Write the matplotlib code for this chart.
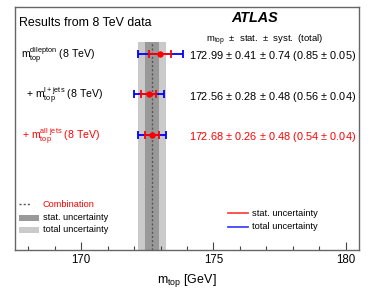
import numpy as np
import matplotlib
matplotlib.use("Agg")
import matplotlib.pyplot as plt
import matplotlib.ticker as mticker
from matplotlib.patches import Rectangle
from matplotlib.lines import Line2D

plt.rcParams["font.family"] = ["Liberation Sans", "DejaVu Sans"]
plt.rcParams["mathtext.fontset"] = "custom"
plt.rcParams["mathtext.rm"] = "Liberation Sans"
plt.rcParams["mathtext.it"] = "Liberation Sans:italic"
plt.rcParams["mathtext.bf"] = "Liberation Sans:bold"

# --- data ---
labels = [r"$\mathrm{m_{top}^{dilepton}}$ (8 TeV)",
          r"+ $\mathrm{m_{top}^{l+jets}}$ (8 TeV)",
          r"+ $\mathrm{m_{top}^{all\ jets}}$ (8 TeV)"]
mtop  = [172.99, 172.56, 172.68]
stat  = [0.41, 0.28, 0.26]
syst  = [0.74, 0.48, 0.48]
total = [0.85, 0.56, 0.54]
total_err = [0.05, 0.04, 0.04]
row_colors = ["black", "black", "red"]

comb_val, comb_stat, comb_total = 172.68, 0.26, 0.54

rows = [4.85, 3.85, 2.85]

fig = plt.figure(figsize=(3.74, 2.92), dpi=100)
ax = fig.add_axes([0.0401, 0.1438, 0.9198, 0.8322])
ax.set_xlim(167.5, 180.5)
ax.set_ylim(0, 6)

# combination bands (stop below the header line)
band_top = 0.856
ax.axvspan(comb_val - comb_total, comb_val + comb_total, ymax=band_top,
           color="#cacaca", lw=0, zorder=1)
ax.axvspan(comb_val - comb_stat, comb_val + comb_stat, ymax=band_top,
           color="#999999", lw=0, zorder=2)
ax.axvline(comb_val, ymax=band_top, color="#555555", ls=(0, (1.5, 1.5)), lw=1.0, zorder=3)

# measurements
ax.errorbar(mtop, rows, xerr=total, fmt="none", ecolor="#0000ff", elinewidth=1.3,
            capsize=2.6, capthick=1.3, zorder=4)
ax.errorbar(mtop, rows, xerr=stat, fmt="o", color="#ff0000", ms=3.6, ecolor="#ff0000",
            elinewidth=1.3, capsize=2.6, capthick=1.3, zorder=5)

# row texts
lab_x = [0.017, 0.031, 0.020]
ytr = ax.get_yaxis_transform()
for y, lab, c, x0 in zip(rows, labels, row_colors, lab_x):
    ax.text(x0, y - 0.05, lab, transform=ytr, fontsize=7.6, color=c,
            ha="left", va="center")
for y, m, s, sy, t, te, c in zip(rows, mtop, stat, syst, total, total_err, row_colors):
    ax.text(0.991, y - 0.07, f"{m:.2f} $\\pm$ {s:.2f} $\\pm$ {sy:.2f} ({t:.2f} $\\pm$ {te:.2f})",
            transform=ytr, fontsize=7.9, color=c, ha="right", va="center")

ax.text(0.0116, 0.934, "Results from 8 TeV data", transform=ax.transAxes,
        fontsize=8.9, ha="left", va="center")
ax.text(0.698, 0.955, "ATLAS", transform=ax.transAxes, fontsize=10.4,
        fontweight="bold", fontstyle="italic", ha="center", va="center")
ax.text(0.727, 0.862, r"$\mathrm{m_{top}}$  $\pm$  stat.  $\pm$  syst.  (total)",
        transform=ax.transAxes, fontsize=6.8, ha="center", va="center")

# left legend
ax.add_line(Line2D([0.012, 0.047], [0.189, 0.189], transform=ax.transAxes,
                   color="#555555", ls=(0, (1.5, 1.5)), lw=1.0))
ax.text(0.081, 0.189, "Combination", transform=ax.transAxes, fontsize=6.6,
        color="red", ha="left", va="center")
ax.add_patch(Rectangle((0.012, 0.120), 0.058, 0.026, transform=ax.transAxes,
                       color="#999999", lw=0))
ax.text(0.081, 0.133, "stat. uncertainty", transform=ax.transAxes, fontsize=6.6,
        ha="left", va="center")
ax.add_patch(Rectangle((0.012, 0.070), 0.058, 0.026, transform=ax.transAxes,
                       color="#cacaca", lw=0))
ax.text(0.081, 0.083, "total uncertainty", transform=ax.transAxes, fontsize=6.6,
        ha="left", va="center")

# right legend
ax.add_line(Line2D([0.619, 0.677], [0.152, 0.152], transform=ax.transAxes,
                   color="#ff4444", lw=1.3))
ax.text(0.689, 0.152, "stat. uncertainty", transform=ax.transAxes, fontsize=6.7,
        ha="left", va="center")
ax.add_line(Line2D([0.619, 0.677], [0.095, 0.095], transform=ax.transAxes,
                   color="#4444ff", lw=1.3))
ax.text(0.689, 0.095, "total uncertainty", transform=ax.transAxes, fontsize=6.7,
        ha="left", va="center")

# axes styling
ax.xaxis.set_major_locator(mticker.MultipleLocator(5))
ax.xaxis.set_minor_locator(mticker.MultipleLocator(1))
ax.tick_params(axis="x", which="major", direction="in", length=5.5, width=0.8,
               labelsize=8.3, pad=3, color="#444444")
ax.tick_params(axis="x", which="minor", direction="in", length=2.8, width=0.8,
               color="#444444")
ax.set_yticks([])
for sp in ax.spines.values():
    sp.set_color("#666666")
    sp.set_linewidth(1.0)
ax.set_xlabel(r"$\mathrm{m_{top}}$ [GeV]", fontsize=9.0, labelpad=4)

fig.savefig("out.png", dpi=100)
